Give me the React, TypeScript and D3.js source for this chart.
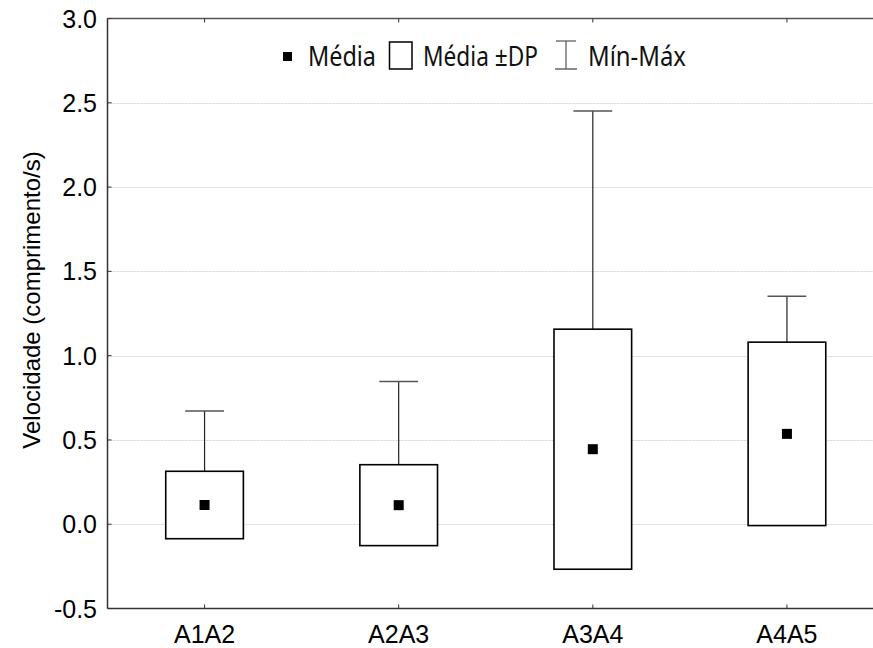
import React from "react";
import * as d3 from "d3";

const categories = ["A1A2", "A2A3", "A3A4", "A4A5"];
const means = [0.114, 0.113, 0.445, 0.536];
const sds = [0.2, 0.24, 0.712, 0.544];
const maxs = [0.672, 0.846, 2.451, 1.353];
const mins = [0, 0, 0, 0];
const yTicks = [-0.5, 0, 0.5, 1.0, 1.5, 2.0, 2.5, 3.0];

const W = 873;
const H = 648;
const left = 107.5;
const right = 884;
const top = 18.5;
const bottom = 608.5;

export default function App() {
  const x = d3.scaleBand<string>().domain(categories).range([left, right]).padding(0);
  const y = d3.scaleLinear().domain([-0.5, 3.0]).range([bottom, top]);
  const step = x.step();
  const boxW = step * 0.4;
  const capW = step * 0.2;
  const fmt = (v: number) => d3.format(".1f")(v).replace("\u2212", "-");
  const arial = "'Liberation Sans', Arial, sans-serif";
  const legendFont = "'Noto Sans', 'Open Sans', sans-serif";

  return (
    <svg width={W} height={H} style={{ position: "absolute", left: 0, top: 0, background: "#fff" }}>
      <rect x={0} y={0} width={W} height={H} fill="#fff" />
      {/* gridlines */}
      {yTicks.filter((t) => t > -0.5 && t < 3.0).map((t) => (
        <line key={"g" + t} x1={left} x2={W} y1={Math.round(y(t)) + 0.5} y2={Math.round(y(t)) + 0.5}
          stroke="#d4d4d4" strokeWidth={1} strokeDasharray="2,1" />
      ))}
      {/* whiskers */}
      {categories.map((c, i) => {
        const cx = x(c)! + step / 2;
        return (
          <g key={"w" + c}>
            <line x1={cx} x2={cx} y1={y(mins[i])} y2={y(maxs[i])} stroke="#222" strokeWidth={1.2} />
            <line x1={cx - capW / 2} x2={cx + capW / 2} y1={y(maxs[i])} y2={y(maxs[i])} stroke="#555" strokeWidth={1.5} />
          </g>
        );
      })}
      {/* boxes */}
      {categories.map((c, i) => {
        const cx = x(c)! + step / 2;
        const y1 = y(means[i] + sds[i]);
        const y2 = y(means[i] - sds[i]);
        return (
          <g key={"b" + c}>
            <rect x={cx - boxW / 2} y={y1} width={boxW} height={y2 - y1} fill="#fff" stroke="#000" strokeWidth={1.6} />
            <rect x={cx - 5} y={y(means[i]) - 5} width={10} height={10} fill="#000" />
          </g>
        );
      })}
      {/* axes */}
      <line x1={left} x2={left} y1={top} y2={bottom} stroke="#333" strokeWidth={1.5} />
      <line x1={left} x2={W} y1={bottom} y2={bottom} stroke="#333" strokeWidth={1.5} />
      <line x1={left} x2={W} y1={top} y2={top} stroke="#555" strokeWidth={1.5} />
      {yTicks.map((t) => (
        <g key={"yt" + t}>
          <line x1={left} x2={left + 4} y1={y(t)} y2={y(t)} stroke="#333" strokeWidth={1} />
          <text x={97} y={y(t)} dy="0.36em" textAnchor="end" fontFamily={arial} fontSize={25} fill="#000">
            {fmt(t)}
          </text>
        </g>
      ))}
      {categories.map((c) => {
        const cx = x(c)! + step / 2;
        return (
          <g key={"xt" + c}>
            <line x1={cx} x2={cx} y1={bottom} y2={bottom - 4} stroke="#333" strokeWidth={1} />
            <line x1={cx} x2={cx} y1={top} y2={top + 4} stroke="#333" strokeWidth={1} />
            <text x={cx} y={643} textAnchor="middle" fontFamily={arial} fontSize={25} fill="#000">
              {c}
            </text>
          </g>
        );
      })}
      <text transform={`translate(40,300) rotate(-90)`} textAnchor="middle" fontFamily={arial} fontSize={24} fill="#000">
        Velocidade (comprimento/s)
      </text>
      {/* legend */}
      <g>
        <rect x={283} y={52} width={9} height={9} fill="#000" />
        <text x={308} y={66} fontFamily={legendFont} fontSize={28} textLength={68} lengthAdjust="spacingAndGlyphs" fill="#111">Média</text>
        <rect x={389.5} y={42} width={22.5} height={27} fill="#fff" stroke="#000" strokeWidth={1.5} />
        <text x={423} y={66} fontFamily={legendFont} fontSize={28} textLength={115} lengthAdjust="spacingAndGlyphs" fill="#111">Média ±DP</text>
        <line x1={566} x2={566} y1={41} y2={69} stroke="#333" strokeWidth={1} />
        <line x1={556} x2={576} y1={41} y2={41} stroke="#333" strokeWidth={1} />
        <line x1={555} x2={577} y1={69} y2={69} stroke="#666" strokeWidth={1.5} />
        <text x={588} y={66} fontFamily={legendFont} fontSize={28} textLength={98} lengthAdjust="spacingAndGlyphs" fill="#111">Mín-Máx</text>
      </g>
    </svg>
  );
}
